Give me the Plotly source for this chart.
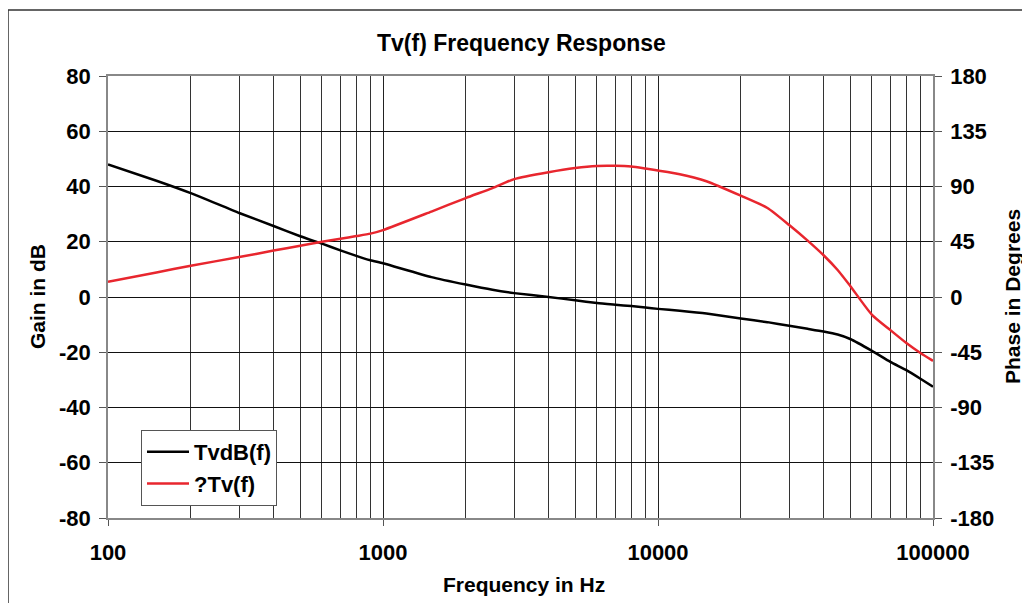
import plotly.graph_objects as go

freq = [100, 150, 200, 300, 400, 500, 600, 700, 800, 900, 1000, 1500, 2000, 2500, 3000,
        4000, 5000, 6000, 7000, 8000, 9000, 10000, 12000, 15000, 20000, 25000, 30000,
        35000, 40000, 45000, 50000, 60000, 70000, 80000, 90000, 100000]
gain_db = [48, 42.1, 37.6, 30.4, 25.7, 22, 19.3, 16.9, 14.9, 13.3, 12.2, 7.2, 4.5, 2.6, 1.4,
           0, -1.2, -2.2, -2.8, -3.3, -3.8, -4.3, -5.0, -6.0, -7.8, -9.1, -10.4,
           -11.5, -12.5, -13.6, -15.2, -19.5, -23.5, -26.5, -29.6, -32.5]
phase_deg = [12.5, 20, 25.5, 32.5, 37.8, 41.8, 45, 47.5, 49.6, 51.6, 54.5, 69.6, 80.6, 88.7, 96,
             101.6, 105, 106.7, 106.8, 106.2, 104.6, 103, 100, 94.3, 82.5, 72.5, 58.6,
             45.9, 34, 22, 9, -14.5, -27, -37.5, -45.6, -52]
major_x = [100, 1000, 10000, 100000]
minor_x = [m * d for d in [100, 1000, 10000] for m in range(2, 10)]

FONT = "Arial, Liberation Sans, sans-serif"
red = "#E8262E"

# page has an 8px body margin; figure is sized/offset to compensate
OFF = 8
FW, FH = 1030 - OFF, 603 - OFF
PL, PR, PT, PB = 108, 933, 76, 518  # plot area in page pixels

fig = go.Figure()
fig.add_trace(go.Scatter(x=freq, y=gain_db, name="<b>TvdB(f)</b>", mode="lines",
                         line=dict(color="black", width=2.5, shape="spline", smoothing=0.5)))
fig.add_trace(go.Scatter(x=freq, y=phase_deg, name="<b>?Tv(f)</b>", mode="lines",
                         line=dict(color=red, width=2.5, shape="spline", smoothing=0.6),
                         yaxis="y2"))

W, H = float(PR - PL), float(PB - PT)
def px_x(p):
    return (p - PL) / W
def px_y(p):
    return (PB - p) / H

fig.update_layout(
    width=FW, height=FH,
    margin=dict(l=PL - OFF, r=FW - (PR - OFF), t=PT - OFF, b=FH - (PB - OFF), autoexpand=False),
    paper_bgcolor="white", plot_bgcolor="white",
    font=dict(family=FONT, size=21, color="black"),
    showlegend=True,
    legend=dict(x=px_x(141), y=px_y(430), xanchor="left", yanchor="top",
                bgcolor="white", bordercolor="#555", borderwidth=1,
                font=dict(size=22), tracegroupgap=0, itemwidth=42),
    xaxis=dict(type="log", range=[2, 5], tickvals=major_x,
               ticktext=["<b>%d</b>" % v for v in major_x],
               showgrid=True, gridcolor="#222", gridwidth=1,
               minor=dict(tickvals=minor_x, showgrid=True, gridcolor="#333", gridwidth=1, ticks=""),
               ticks="outside", ticklen=6, tickcolor="#555",
               showline=True, linecolor="#888", linewidth=1.5, mirror=True,
               ticklabelstandoff=8, zeroline=False, tickfont=dict(size=22)),
    yaxis=dict(range=[-80, 80], tickvals=list(range(-80, 81, 20)),
               ticktext=["<b>%d</b>" % v for v in range(-80, 81, 20)],
               showgrid=True, gridcolor="#111", gridwidth=1,
               ticks="outside", ticklen=7, tickcolor="#555",
               showline=True, linecolor="#888", linewidth=1.5,
               zeroline=False, ticklabelstandoff=4, tickfont=dict(size=22)),
    yaxis2=dict(range=[-180, 180], tickvals=list(range(-180, 181, 45)),
                ticktext=["<b>%d</b>" % v for v in range(-180, 181, 45)],
                overlaying="y", side="right", showgrid=False,
                ticks="outside", ticklen=7, tickcolor="#555",
                showline=True, linecolor="#888", linewidth=1.5,
                zeroline=False, ticklabelstandoff=4, tickfont=dict(size=22)),
    annotations=[
        dict(text="<b>Tv(f) Frequency Response</b>", x=px_x(521), y=px_y(43),
             xanchor="center", yanchor="middle",
             xref="paper", yref="paper", showarrow=False, font=dict(size=23)),
        dict(text="<b>Frequency in Hz</b>", x=px_x(524), y=px_y(584),
             xanchor="center", yanchor="middle",
             xref="paper", yref="paper", showarrow=False, font=dict(size=21)),
        dict(text="<b>Gain in dB</b>", x=px_x(37), y=px_y(297),
             xanchor="center", yanchor="middle",
             xref="paper", yref="paper", showarrow=False, textangle=-90, font=dict(size=21)),
        dict(text="<b>Phase in Degrees</b>", x=px_x(1012), y=px_y(297),
             xanchor="center", yanchor="middle",
             xref="paper", yref="paper", showarrow=False, textangle=-90, font=dict(size=21)),
    ],
)

fig.add_shape(type="rect", xref="paper", yref="paper",
              x0=px_x(8), x1=px_x(1100), y0=px_y(700), y1=px_y(10),
              line=dict(color="#333", width=1.5), fillcolor="rgba(0,0,0,0)", layer="below")

fig.write_html("out.html")
